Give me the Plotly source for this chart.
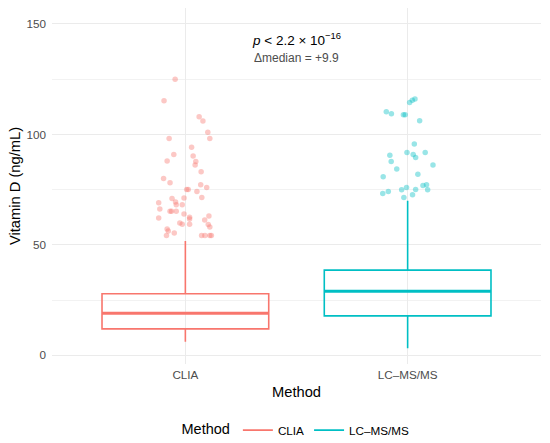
import plotly.graph_objects as go

# ---- data ----
methods = ["CLIA", "LC\u2013MS/MS"]
colors = ["#F8766D", "#00BFC4"]
q1 = [12.0, 17.9]
median = [19.1, 29.0]
q3 = [27.9, 38.6]
lower_whisker = [6.2, 3.2]
upper_whisker = [51.8, 70.0]

clia_out_dx = [-0.046, -0.096, 0.062, 0.079, 0.101, 0.110, -0.073, 0.028, -0.052, 0.035,
               0.047, -0.082, 0.044, 0.071, -0.098, -0.069, 0.069, 0.096, 0.006, 0.013,
               0.052, -0.060, -0.006, 0.074, -0.120, -0.044, -0.014, -0.041, -0.115, -0.069,
               -0.062, -0.041, -0.006, 0.106, 0.019, 0.019, -0.120, 0.087, -0.025, -0.014,
               0.019, 0.103, 0.110, -0.082, -0.077, -0.050, -0.085, 0.073, 0.088, 0.110, 0.117]
clia_out_y = [125.0, 115.2, 108.0, 106.1, 101.0, 98.1, 98.1, 94.2, 90.9, 90.2,
              87.7, 88.0, 86.2, 83.1, 80.1, 78.1, 77.2, 76.0, 75.1, 75.1,
              74.2, 71.0, 71.2, 71.5, 69.1, 69.4, 68.2, 68.2, 66.2, 65.2,
              65.2, 65.2, 64.0, 63.1, 62.5, 61.7, 62.2, 61.3, 59.9, 59.3,
              59.3, 59.2, 58.1, 57.2, 56.3, 55.4, 54.2, 54.2, 54.2, 54.2, 54.2]

lc_out_dx = [0.033, 0.021, 0.009, -0.096, -0.073, -0.019, -0.011, 0.054, 0.030, -0.003,
             0.079, 0.025, -0.080, 0.036, -0.074, 0.114, -0.049, -0.110, 0.046, 0.085,
             0.069, -0.005, -0.087, -0.027, 0.036, 0.090, -0.112, 0.022, -0.017]
lc_out_y = [116.0, 115.4, 114.4, 110.3, 109.4, 108.9, 108.9, 106.2, 95.6, 91.8,
            91.8, 90.9, 90.6, 89.5, 87.7, 86.2, 84.3, 80.8, 82.0, 77.2,
            76.9, 76.0, 74.2, 75.0, 75.1, 75.0, 73.2, 72.7, 71.5]

y_ticks = [0, 50, 100, 150]
y_minor = [25, 75, 125]
p_text = "<i>p</i> < 2.2 \u00d7 10<sup>\u221216</sup>"
delta_text = "\u0394median = +9.9"

box_width = 0.75
font_family = "Liberation Sans, Arial, Helvetica, sans-serif"

fig = go.Figure()

outliers = [(clia_out_dx, clia_out_y), (lc_out_dx, lc_out_y)]
for i, m in enumerate(methods):
    pos = i + 1
    dx, yy = outliers[i]
    fig.add_trace(go.Scatter(
        x=[pos + d for d in dx], y=yy, mode="markers",
        marker=dict(color=colors[i], size=5.5, opacity=0.4, line=dict(width=0)),
        showlegend=False, hoverinfo="skip"))
    fig.add_trace(go.Box(
        x=[pos], q1=[q1[i]], median=[median[i]], q3=[q3[i]],
        lowerfence=[lower_whisker[i]], upperfence=[upper_whisker[i]],
        width=box_width, whiskerwidth=0, boxpoints=False,
        fillcolor="rgba(255,255,255,0)", line=dict(color=colors[i], width=1.6),
        showlegend=False, hoverinfo="skip"))
    fig.add_trace(go.Scatter(
        x=[pos - box_width / 2, pos + box_width / 2], y=[median[i], median[i]],
        mode="lines", line=dict(color=colors[i], width=3),
        showlegend=False, hoverinfo="skip"))
    # legend key
    fig.add_trace(go.Scatter(
        x=[None], y=[None], mode="lines", name=m,
        line=dict(color=colors[i], width=1.6)))

fig.add_annotation(x=1.5, y=143.2, xref="x", yref="y", text=p_text, showarrow=False,
                   font=dict(size=13.5, color="#000000", family=font_family))
fig.add_annotation(x=1.5, y=134.5, xref="x", yref="y", text=delta_text, showarrow=False,
                   font=dict(size=12, color="#4D4D4D", family=font_family))

fig.update_layout(
    width=550, height=443,
    margin=dict(l=52, r=9, t=7.5, b=79),
    paper_bgcolor="white", plot_bgcolor="white",
    font=dict(family=font_family, color="#000000"),
    showlegend=True,
    legend=dict(orientation="h", xref="container", yref="container",
                x=0.54, xanchor="center", y=0.029, yanchor="middle",
                title=dict(text="Method", side="left", font=dict(size=14.5)),
                font=dict(size=11.7, color="#000000"),
                itemwidth=30, tracegroupgap=0),
    xaxis=dict(range=[0.4, 2.6], tickvals=[1, 2], ticktext=methods,
               showgrid=True, gridcolor="#EBEBEB", gridwidth=1,
               zeroline=False, showline=False, ticks="", automargin=True,
               ticklabelstandoff=2,
               tickfont=dict(size=11.7, color="#4D4D4D"),
               title=dict(text="Method", font=dict(size=14.7, color="#000000"), standoff=7)),
    yaxis=dict(range=[-3.9, 157.2], tickvals=y_ticks,
               showgrid=True, gridcolor="#EBEBEB", gridwidth=1,
               minor=dict(tickvals=y_minor, showgrid=True, gridcolor="#F2F2F2", gridwidth=0.6),
               zeroline=False, showline=False, ticks="", automargin=True,
               ticklabelstandoff=5,
               tickfont=dict(size=11.7, color="#4D4D4D"),
               title=dict(text="Vitamin D (ng/mL)", font=dict(size=14.7, color="#000000"), standoff=2)),
)

fig.write_html("out.html", config={"displayModeBar": False},
               post_script="document.body.style.margin='0';")
